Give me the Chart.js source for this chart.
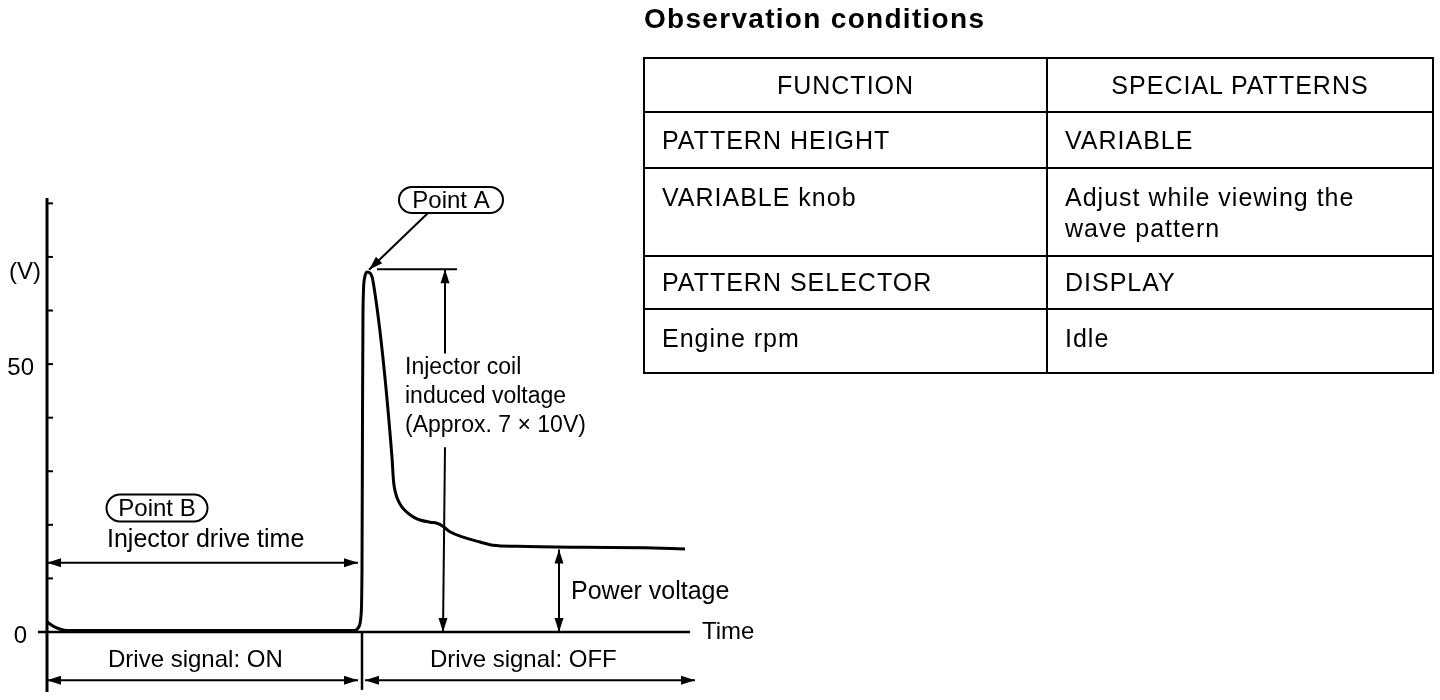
<!DOCTYPE html>
<html>
<head>
<meta charset="utf-8">
<script src="https://cdn.jsdelivr.net/npm/chart.js@4.4.0/dist/chart.umd.min.js"></script>
<style>
 body{margin:0;background:#fff;}
 #wrap{position:relative;width:1440px;height:700px;overflow:hidden;}
 #wave{position:absolute;left:0;top:0;}
 h2{position:absolute;left:644px;top:3px;margin:0;line-height:30px;font:bold 28px "Liberation Sans",Arial,sans-serif;letter-spacing:1.3px;color:#000;}
 table{position:absolute;left:643px;top:57px;border-collapse:collapse;font:25px "Liberation Sans",Arial,sans-serif;letter-spacing:1px;color:#000;table-layout:fixed;}
 td{border:2px solid #000;padding:0 0 0 17px;vertical-align:middle;line-height:31px;white-space:pre-line;box-sizing:border-box;}
 tr.head td{text-align:center;padding:0;}
</style>
</head>
<body>
<div id="wrap">
 <canvas id="wave" width="1440" height="700"></canvas>
 <h2>Observation conditions</h2>
 <table id="cond">
  <colgroup><col style="width:403px"><col style="width:386px"></colgroup>
  <tbody></tbody>
 </table>
</div>
<script>
// injector waveform, time in arbitrary units, voltage in V
const timeUnits=[0,8,20,308,312,314,315,315.5,316,317.5,320,323,326,345,346.5,348.5,351,355,361,367,373,383,390,397,403,416,433,446,470,538,598,638];
const voltage  =[1.9,0.9,0.3,0.3,1.0,3,12,40,60,66,67.2,67,65.5,32.6,28.2,26,24.6,23.3,22.2,21.4,20.9,20.5,20.3,19.6,18.7,17.7,16.8,16.2,16.0,15.8,15.7,15.5];

const yTicks=[10,20,30,40,50,60,70,80];
const yTickLabels=[0,50];

const tableHead=['FUNCTION','SPECIAL PATTERNS'];
const functionCol=['PATTERN HEIGHT','VARIABLE knob','PATTERN SELECTOR','Engine rpm'];
const patternCol=['VARIABLE','Adjust while viewing the\nwave pattern','DISPLAY','Idle'];
const rowHeights=[54,56,88,53,64];

// table
const tb=document.querySelector('#cond tbody');
[tableHead].concat(functionCol.map((f,i)=>[f,patternCol[i]])).forEach((r,i)=>{
 const tr=document.createElement('tr');
 if(i===0) tr.className='head';
 r.forEach(txt=>{
  const td=document.createElement('td');
  td.textContent=txt;
  td.style.height=rowHeights[i]+'px';
  if(i===2){td.style.verticalAlign='top';td.style.paddingTop='13px';}
  if(i===4){td.style.verticalAlign='top';td.style.paddingTop='13px';}
  tr.appendChild(td);
 });
 tb.appendChild(tr);
});

const FONT='"Liberation Sans", Arial, sans-serif';

const annotate={
 id:'annotate',
 afterDatasetsDraw(chart){
  const {ctx,chartArea,scales:{x,y}}=chart;
  const X=t=>x.getPixelForValue(t), Y=v=>y.getPixelForValue(v);
  ctx.save();
  ctx.strokeStyle='#000';ctx.fillStyle='#000';ctx.lineCap='butt';

  function line(x1,y1,x2,y2,w){
   ctx.lineWidth=w||2;ctx.beginPath();ctx.moveTo(x1,y1);ctx.lineTo(x2,y2);ctx.stroke();
  }
  function head(xt,yt,ang){
   const L=14,W=4.5,c=Math.cos(ang),s=Math.sin(ang);
   ctx.beginPath();ctx.moveTo(xt,yt);
   ctx.lineTo(xt-L*c+W*s,yt-L*s-W*c);
   ctx.lineTo(xt-L*c-W*s,yt-L*s+W*c);
   ctx.closePath();ctx.fill();
  }
  function arrow(x1,y1,x2,y2,both){
   line(x1,y1,x2,y2,2);
   const a=Math.atan2(y2-y1,x2-x1);
   head(x2,y2,a);
   if(both) head(x1,y1,a+Math.PI);
  }
  function text(s,px,py,align,size){
   ctx.font=(size||24)+'px '+FONT;ctx.textAlign=align||'left';ctx.textBaseline='middle';
   ctx.fillText(s,px,py);
  }
  function pill(s,cx,cy,w,h){
   ctx.lineWidth=2;ctx.beginPath();ctx.roundRect(cx-w/2,cy-h/2,w,h,h/2);ctx.stroke();
   text(s,cx,cy+1,'center',24);
  }

  // y axis with inner ticks
  line(X(0),chartArea.top,X(0),chartArea.bottom,3);
  yTicks.forEach(v=>line(X(0),Y(v),X(0)+6,Y(v),2));
  yTickLabels.forEach(v=>text(String(v),v===0?27:34,Y(v)+4,'right',24));
  text('(V)',41,Y(67.2),'right',24);

  // x axis
  line(38,Y(0),X(643),Y(0),2.5);
  text('Time',702,Y(0),'left',24);

  // divider at drive signal switch
  line(X(315),Y(0),X(315),Y(-10.8),2.5);

  // drive time / drive signal arrows
  arrow(X(0),Y(12.9),X(311),Y(12.9),true);
  arrow(X(0),Y(-9),X(311),Y(-9),true);
  arrow(X(318),Y(-9),X(648),Y(-9),true);
  pill('Point B',157,508,101,27);
  text('Injector drive time',107,540,'left',25);
  text('Drive signal: ON',108,660);
  text('Drive signal: OFF',430,660);

  // induced voltage
  line(X(330),Y(67.7),X(410),Y(67.7),2);
  line(X(398),Y(67.7),X(398),Y(52),2);head(X(398),Y(67.7),-Math.PI/2);
  line(X(398),Y(34.5),X(396),Y(0),2);head(X(396),Y(0),Math.PI/2);
  text('Injector coil',405,368,'left',23);
  text('induced voltage',405,397,'left',23);
  text('(Approx. 7 \u00d7 10V)',405,426,'left',23);
  pill('Point A',451,200,104,26);
  arrow(X(381),Y(78.2),X(322),Y(67.6),false);

  // power voltage
  arrow(X(512),Y(15.4),X(512),Y(0),true);
  text('Power voltage',571,592,'left',25);
  ctx.restore();
 }
};

new Chart(document.getElementById('wave'),{
 type:'line',
 data:{datasets:[{
  data:timeUnits.map((t,i)=>({x:t,y:voltage[i]})),
  borderColor:'#000',borderWidth:3,pointRadius:0,fill:false,
  cubicInterpolationMode:'monotone',clip:false
 }]},
 options:{
  responsive:false,animation:false,devicePixelRatio:1,
  layout:{padding:{left:47,right:750,top:198,bottom:8}},
  scales:{
   x:{type:'linear',min:0,max:643,display:false},
   y:{min:-11.2,max:81,display:false}
  },
  plugins:{legend:{display:false},tooltip:{enabled:false}}
 },
 plugins:[annotate]
});
</script>
</body>
</html>
